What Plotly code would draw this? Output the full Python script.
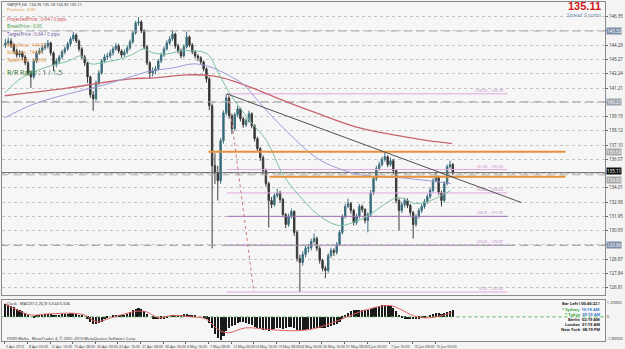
import plotly.graph_objects as go

# ---------------- DATA ----------------
first_open = 144.30
close = [144.46, 144.60, 144.31, 143.88, 143.59, 143.74, 143.45, 143.02, 142.30, 142.01,
         143.16, 143.74, 143.88, 144.10, 144.24, 144.46, 143.74, 142.88, 143.16, 143.45,
         143.81, 144.03, 144.39, 144.74, 145.03, 144.60, 144.03, 143.45, 143.02, 142.01,
         140.72, 140.43, 141.58, 142.30, 143.16, 143.45, 143.52, 143.74, 144.03, 144.24,
         143.88, 143.59, 143.81, 144.10, 144.53, 145.18, 145.90, 145.97, 145.32, 144.17,
         143.02, 142.30, 142.44, 142.59, 143.16, 143.59, 144.03, 144.46, 144.74, 145.10,
         144.24, 143.88, 143.52, 144.17, 144.89, 144.31, 143.81, 143.52, 143.38, 143.09,
         142.59, 141.87, 139.93, 135.61, 135.11, 134.53, 137.41, 139.42, 140.50, 139.21,
         138.27, 139.28, 139.71, 138.99, 138.56, 138.85, 139.35, 138.49, 137.56, 136.84,
         136.19, 135.25, 134.32, 133.10, 132.81, 133.46, 133.67, 133.17, 132.09, 131.37,
         131.95, 132.31, 130.80, 128.93, 128.64, 129.21, 129.65, 129.70, 130.15, 130.36,
         129.65, 128.78, 128.21, 128.06, 129.14, 129.50, 129.36, 129.93, 130.80, 131.95,
         132.67, 132.88, 132.38, 131.51, 131.95, 132.67, 132.45, 131.66, 132.09, 133.67,
         134.68, 135.40, 135.69, 136.05, 136.26, 135.69, 135.97, 135.25, 133.10, 132.38,
         132.81, 133.10, 132.74, 132.23, 131.37, 131.95, 132.38, 132.67, 133.02, 133.38,
         133.82, 134.53, 134.82, 133.67, 133.10, 134.32, 135.54, 135.69, 135.11]
high = [144.75, 144.85, 144.80, 144.45, 144.05, 143.95, 143.90, 143.60, 143.15, 142.45,
        143.30, 143.90, 144.10, 144.30, 144.45, 144.67, 144.55, 143.85, 143.35, 143.60,
        143.95, 144.20, 144.55, 144.90, 145.25, 145.15, 144.70, 144.15, 143.60, 143.10,
        142.10, 141.00, 141.75, 142.50, 143.30, 143.65, 143.75, 143.95, 144.20, 144.45,
        144.40, 144.00, 144.00, 144.30, 144.70, 145.35, 146.05, 146.33, 146.10, 145.45,
        144.30, 143.15, 142.70, 142.80, 143.30, 143.75, 144.20, 144.65, 144.95, 145.40,
        145.20, 144.40, 144.05, 144.35, 145.25, 145.00, 144.45, 143.95, 143.65, 143.50,
        143.20, 142.70, 142.00, 140.10, 136.50, 135.60, 137.60, 139.60, 140.79, 140.60,
        139.35, 139.45, 139.93, 139.80, 139.10, 139.05, 139.57, 139.45, 138.60, 137.70,
        136.95, 136.35, 135.40, 134.45, 133.35, 133.65, 133.96, 133.80, 133.30, 132.20,
        132.15, 132.52, 132.40, 130.95, 129.20, 129.45, 129.85, 129.95, 130.35, 130.72,
        130.50, 129.80, 128.90, 128.40, 129.30, 129.70, 129.65, 130.10, 130.95, 132.10,
        132.85, 133.24, 133.00, 132.50, 132.15, 132.85, 132.80, 132.55, 132.25, 133.85,
        134.85, 135.60, 135.90, 136.25, 136.55, 136.35, 136.20, 136.10, 135.35, 133.25,
        133.00, 133.30, 133.25, 132.85, 132.35, 132.10, 132.55, 132.85, 133.20, 133.55,
        134.00, 134.70, 135.11, 134.90, 133.80, 134.50, 135.70, 135.97, 135.80]
low = [144.10, 144.30, 144.10, 143.70, 143.40, 143.40, 143.25, 142.85, 142.10, 141.22,
       141.85, 143.00, 143.60, 143.70, 143.95, 144.05, 143.55, 142.44, 142.70, 143.00,
       143.30, 143.65, 143.90, 144.20, 144.60, 144.45, 143.85, 143.30, 142.80, 141.58,
       140.50, 139.57, 140.30, 141.40, 142.15, 143.00, 143.25, 143.35, 143.55, 143.90,
       143.70, 143.40, 143.45, 143.65, 143.95, 144.40, 145.05, 145.70, 145.15, 144.00,
       142.85, 141.87, 142.05, 142.20, 142.45, 143.00, 143.45, 143.90, 144.30, 144.60,
       144.05, 143.70, 143.35, 143.40, 144.05, 144.15, 143.65, 143.35, 143.15, 142.90,
       142.40, 141.60, 139.60, 129.65, 134.30, 133.10, 134.30, 137.20, 139.25, 139.00,
       137.90, 138.10, 139.10, 138.80, 138.35, 138.40, 138.70, 138.30, 137.35, 136.60,
       135.95, 135.00, 134.10, 131.15, 132.55, 132.65, 133.30, 132.95, 131.90, 131.10,
       131.20, 131.80, 130.55, 128.70, 126.50, 128.40, 129.00, 129.35, 129.50, 130.00,
       129.45, 128.55, 128.00, 127.50, 127.90, 128.95, 129.10, 129.20, 129.80, 130.65,
       131.80, 132.55, 132.15, 131.30, 131.35, 131.80, 132.25, 131.45, 130.80, 131.95,
       133.50, 134.50, 135.25, 135.55, 135.90, 135.50, 135.55, 135.05, 132.90, 130.94,
       132.20, 132.60, 132.55, 132.00, 130.36, 131.20, 131.80, 132.20, 132.50, 132.85,
       133.20, 133.65, 134.40, 133.50, 132.67, 132.95, 134.20, 135.40, 134.95]

# moving averages (bar index, price)
ma_green_bar = [0, 12, 28, 45, 54, 61, 68, 82, 91, 98, 105, 115, 124, 133, 143, 152, 161,
                175, 185, 197, 208, 222, 236, 246, 257, 267, 278, 290, 301, 315]
ma_green_val = [140.86, 141.94, 142.66, 143.16, 143.52, 142.95, 143.02, 143.31, 143.67, 144.03,
                143.74, 143.67, 143.88, 143.88, 143.67, 142.08, 140.50, 138.63, 137.41, 134.89,
                133.46, 132.02, 131.30, 131.51, 132.02, 132.74, 133.31, 132.88, 133.10, 133.82]
ma_purple_bar = [0, 21, 45, 68, 91, 103, 119, 133, 143, 152, 159, 168, 185, 201, 220, 236,
                 255, 278, 299, 315]
ma_purple_val = [139.06, 140.07, 140.79, 141.37, 142.08, 142.44, 142.66, 142.95, 142.80, 142.44,
                 142.08, 141.51, 139.57, 137.91, 136.19, 135.40, 134.89, 134.75, 134.53, 134.32]
ma_red_bar = [0, 45, 68, 89, 105, 129, 147, 161, 180, 201, 220, 250, 278, 299, 316]
ma_red_val = [140.65, 141.22, 141.58, 141.87, 141.94, 142.16, 142.08, 141.73, 141.01, 140.14,
              139.42, 138.35, 137.77, 137.41, 137.20]

# MACD histogram (one per candle) and signal line points
macd_hist = [1.05, 0.97, 0.89, 0.81, 0.65, 0.57,
             0.49, 0.32, 0.16, 0.0, -0.08,
             0.08, 0.16, 0.16, 0.24, 0.24, 0.24, 0.16, 0.16, 0.16, 0.24,
             0.24, 0.24, 0.32, 0.32, 0.24, 0.16, 0.08, 0.0,
             -0.16, -0.41, -0.57, -0.57, -0.49, -0.41, -0.24, -0.08,
             0.0, 0.08, 0.16, 0.16, 0.16, 0.16, 0.24,
             0.41, 0.57, 0.65, 0.73, 0.65, 0.49, 0.24,
             0.0, -0.16, -0.24, -0.24, -0.16, -0.16, -0.08, 0.0,
             0.08, 0.16, 0.16, 0.16, 0.24, 0.24, 0.16,
             0.08, 0.08, 0.0, 0.0, -0.08, -0.16,
             -0.49, -0.97, -1.46, -1.78, -1.94, -1.62, -1.22,
             -0.97, -0.81, -0.65, -0.49, -0.41, -0.41, -0.49, -0.57,
             -0.73, -0.89, -0.97, -1.05, -1.13, -1.13, -1.22, -1.13, -1.05,
             -0.97, -0.97, -1.05, -0.97, -0.89, -0.89, -0.97, -1.13, -1.22, -1.13,
             -1.13, -1.05, -1.05, -0.97, -0.97, -0.97, -0.97,
             -0.97, -0.89, -0.81, -0.73, -0.57, -0.41, -0.16, 0.08,
             0.32, 0.49, 0.57, 0.57, 0.57, 0.57, 0.57, 0.57, 0.65, 0.73, 0.81, 0.89, 0.97, 0.97,
             0.89, 0.89, 0.73, 0.49, 0.16,
             -0.08, -0.16, -0.24, -0.24, -0.24, -0.24, -0.16, -0.08, -0.08, 0.0, 0.08,
             0.24, 0.32, 0.32, 0.24, 0.32, 0.41, 0.49, 0.54]
signal_bar = [0, 18, 30, 55, 65, 74, 93, 100, 109, 118, 132, 142, 151, 158, 170, 188, 207,
              221, 242, 254, 272, 279, 289, 300, 316]
signal_val = [1.09, 0.16, 0.24, 0.20, -0.41, -0.12, 0.45, 0.41, -0.08, 0.12, 0.0, -0.16,
              -1.05, -1.30, -0.90, -1.05, -1.13, -0.89, 0.0, 0.53, 0.93, 0.65, 0.08, -0.08, 0.35]

date_labels = ["5 Apr 2010", "8 Apr 00:00", "12 Apr 16:00", "15 Apr 08:00", "20 Apr 00:00",
               "22 Apr 16:00", "27 Apr 08:00", "30 Apr 00:00", "4 May 16:00", "7 May 08:00",
               "12 May 00:00", "14 May 16:00", "19 May 08:00", "24 May 00:00", "26 May 16:00",
               "31 May 08:00", "3 Jun 00:00", "7 Jun 16:00", "10 Jun 08:00", "15 Jun 00:00"]

grid_levels = [146.35, 145.32, 144.29, 143.27, 142.24, 141.21, 140.18, 139.15, 138.12, 137.10,
               136.07, 135.04, 134.01, 132.98, 131.95, 130.93, 129.90, 128.87, 127.84, 126.81]

fib_low, fib_high = 126.50, 140.79
fib_ratios = [0.0, 23.6, 38.2, 50.0, 61.8, 100.0]
fib_colors = ["#e2a8e2", "#b07ac0", "#a070b8", "#e2a8e2", "#e2a8e2", "#e2a8e2"]
fib_start_bar, fib_end_bar = 157, 355

orange_levels = [136.62, 134.82]
orange_start = [144, 187]
orange_end = 396

dashed_levels = [145.32, 140.21, 129.86]
bid_price, ask_line = 135.11, 134.95

trend_bar = [157, 365]
trend_val = [140.79, 132.95]
fibdiag_bar = [158, 176]
fibdiag_val = [140.70, 126.50]

# ---------------- FIGURE ----------------
n = len(close)
bar_x = [2 * i + 0.5 for i in range(n)]
open_ = [first_open] + close[:-1]

fig = go.Figure()

for r, col in zip(fib_ratios, fib_colors):
    lvl = fib_low + (fib_high - fib_low) * r / 100.0
    fig.add_trace(go.Scatter(x=[fib_start_bar, fib_end_bar], y=[lvl, lvl], mode="lines",
                             line=dict(color=col, width=1), hoverinfo="skip", showlegend=False))
    fig.add_annotation(x=fib_end_bar - 1, y=lvl, xref="x", yref="y", xanchor="right", yanchor="bottom",
                       text=f"({r:.1f}) - {lvl:.2f}", showarrow=False,
                       font=dict(size=4, color="#c080c8"), yshift=-1)

for lvl in dashed_levels:
    fig.add_trace(go.Scatter(x=[-3, 430], y=[lvl, lvl], mode="lines",
                             line=dict(color="#a9a9a9", width=1.2, dash="8px,5px"),
                             hoverinfo="skip", showlegend=False))
fig.add_trace(go.Scatter(x=[-3, 430], y=[ask_line, ask_line], mode="lines",
                         line=dict(color="#b0b0b0", width=1, dash="8px,5px"),
                         hoverinfo="skip", showlegend=False))
fig.add_trace(go.Scatter(x=[-3, 430], y=[bid_price, bid_price], mode="lines",
                         line=dict(color="#6a6a6a", width=1),
                         hoverinfo="skip", showlegend=False))

fig.add_trace(go.Scatter(x=ma_red_bar, y=ma_red_val, mode="lines", line=dict(color="#c86470", width=1.3, shape="spline"),
                         hoverinfo="skip", showlegend=False))
fig.add_trace(go.Scatter(x=ma_purple_bar, y=ma_purple_val, mode="lines", line=dict(color="#9a9ad8", width=1, shape="spline"),
                         hoverinfo="skip", showlegend=False))
fig.add_trace(go.Scatter(x=ma_green_bar, y=ma_green_val, mode="lines", line=dict(color="#7cc0a0", width=1, shape="spline"),
                         hoverinfo="skip", showlegend=False))

for lvl, s in zip(orange_levels, orange_start):
    fig.add_trace(go.Scatter(x=[s, orange_end], y=[lvl, lvl], mode="lines",
                             line=dict(color="#e8903a", width=2), hoverinfo="skip", showlegend=False))

fig.add_trace(go.Scatter(x=trend_bar, y=trend_val, mode="lines", line=dict(color="#505050", width=1),
                         hoverinfo="skip", showlegend=False))
fig.add_trace(go.Scatter(x=fibdiag_bar, y=fibdiag_val, mode="lines", line=dict(color="#c87878", width=1, dash="dot"),
                         hoverinfo="skip", showlegend=False))

fig.add_trace(go.Candlestick(x=bar_x, open=open_, high=high, low=low, close=close,
                             increasing=dict(line=dict(color="#3f6f7d", width=1), fillcolor="#2e6878"),
                             decreasing=dict(line=dict(color="#3c3c3c", width=1), fillcolor="#2a2522"),
                             whiskerwidth=0, hoverinfo="skip", showlegend=False))

# MACD panel
fig.add_trace(go.Scatter(x=[-3, 430], y=[0, 0], mode="lines", xaxis="x2", yaxis="y2",
                         line=dict(color="#5cb85c", width=1, dash="dot"), hoverinfo="skip", showlegend=False))
fig.add_trace(go.Bar(x=bar_x, y=macd_hist, xaxis="x2", yaxis="y2", marker=dict(color="#1a1a1a", line=dict(width=0)),
                     width=1.5, hoverinfo="skip", showlegend=False))
fig.add_trace(go.Scatter(x=signal_bar, y=signal_val, mode="lines", xaxis="x2", yaxis="y2",
                         line=dict(color="#e06060", width=1, shape="spline"), hoverinfo="skip", showlegend=False))

# (level, box colour, vertical nudge in px)
box_levels = [(145.32, "#7d8ea8", 0), (140.21, "#9aa3ae", 0), (129.86, "#7d8ea8", 0),
              (136.62, "#a8a8a8", 0), (134.82, "#a8a8a8", -3), (bid_price, "#101010", 2)]
tick_text = []
for v in grid_levels:
    near = any(abs(v - b) < 0.45 for b, _, _ in box_levels)
    tick_text.append("" if near else f"{v:.2f}")

xr = [-1.9, 424]
fig.update_layout(
    width=625, height=349,
    margin=dict(l=1, r=15, t=1, b=8),
    paper_bgcolor="#f4f4f4", plot_bgcolor="#f6f6f6",
    showlegend=False,
    xaxis=dict(domain=[0, 1], range=xr, anchor="y", showticklabels=False, showgrid=False,
               zeroline=False, rangeslider=dict(visible=False),
               showline=True, linecolor="#8a8a8a", mirror=True),
    yaxis=dict(domain=[0.135, 1], range=[126.27, 147.41], side="right", tickvals=grid_levels,
               ticktext=tick_text, tickfont=dict(size=4.5, color="#333"),
               showgrid=True, gridcolor="#c4c4c4", griddash="dot", gridwidth=1,
               zeroline=False, showline=True, linecolor="#8a8a8a", mirror=True, ticks="outside",
               ticklen=2, tickcolor="#666"),
    xaxis2=dict(domain=[0, 1], range=xr, anchor="y2", showticklabels=False, showgrid=False, zeroline=False,
                tickvals=[16 * i for i in range(len(date_labels))], ticks="outside", ticklen=2,
                tickcolor="#666", showline=True, linecolor="#8a8a8a", mirror=True),
    yaxis2=dict(domain=[0, 0.12], range=[-1.97, 1.35], side="right", tickvals=[1.2, 0, -1.8],
                ticktext=["1.20000", "0", "-1.80000"], tickfont=dict(size=4, color="#333"),
                showgrid=False, zeroline=False, showline=True, linecolor="#8a8a8a", mirror=True),
    bargap=0,
)

for i, lab in enumerate(date_labels):
    fig.add_annotation(x=16 * i - 0.5, y=0, xref="x2", yref="paper", xanchor="left", yanchor="top",
                       text=lab, showarrow=False, font=dict(size=3.6, color="#333"), yshift=-1)

for lvl, bg, nudge in box_levels:
    fig.add_annotation(x=1.0, y=lvl, xref="paper", yref="y", xanchor="left", yanchor="middle",
                       text=f"{lvl:.2f}", showarrow=False, bgcolor=bg, font=dict(size=4.5, color="white"),
                       borderpad=0, xshift=1, yshift=nudge)

H = 349.0
def paper_y(pix):
    return (H - 8 - pix) / (H - 9)

def tl(text, y, color, size=4.5):
    fig.add_annotation(x=0, y=paper_y(y), xref="paper", yref="paper", xanchor="left", yanchor="middle",
                       text=text, showarrow=False, font=dict(size=size, color=color), xshift=3)

tl("GBPJPY,H4  134.95 135.18 134.95 135.11", 3.5, "#222", size=4)
tl("Positions : 0.00", 8.5, "#e0882a", size=4)
tl("ProjectedPrice : 0.64 / 0 pips", 18, "#c83c3c")
tl("BreakPrice : 0.00", 25, "#3a9a3a")
tl("TargetPrice : 0.64 / 0 pips", 33, "#6a4aa0")
tl("EntryPrice : 144.50", 44, "#e0882a")
tl("StopLoss : 144.90", 51, "#e0882a")
tl("TakeProfit : 143.90", 59, "#e0882a")
tl("R/R Ratio : 1 / 1.5", 72, "#2d6e2d", size=7)

fig.add_annotation(x=1.0, y=paper_y(5.5), xref="paper", yref="paper", xanchor="right", yanchor="middle",
                   text="<b>135.11</b>", showarrow=False, font=dict(size=11, color="#d01818", family="Arial"),
                   xshift=-2)
fig.add_annotation(x=1.0, y=paper_y(14.5), xref="paper", yref="paper", xanchor="right", yanchor="middle",
                   text="Spread: 9 points", showarrow=False, font=dict(size=4.5, color="#6a8ab0"), xshift=-2)

tl("Clock   MACD(12,26,9) 0.544 0.346", 303, "#222", size=4)
tl("FXDD Malta - MetaTrader 4, © 2001-2010 MetaQuotes Software Corp.", 338.5, "#222", size=4)

clock_rows = [("Bar Left [ 00:40:22 ]", "", "#222", "#222", 303),
              ("* Sydney", "10:19 AM", "#3aa83a", "#3a7ad0", 309),
              ("* Tokyo", "09:19 AM", "#3aa83a", "#3a7ad0", 314),
              ("Berlin", "02:19 AM", "#222", "#222", 319),
              ("London", "01:19 AM", "#222", "#222", 324),
              ("New York", "08:19 PM", "#222", "#222", 329)]
for name, t, c1, c2, yy in clock_rows:
    if t:
        txt = f"<b><span style='color:{c1}'>{name}</span>  <span style='color:{c2}'>{t}</span></b>"
    else:
        txt = f"<b>{name}</b>"
    fig.add_annotation(x=1.0, y=paper_y(yy), xref="paper", yref="paper", xanchor="right", yanchor="middle",
                       text=txt, showarrow=False, font=dict(size=4, color=c1), xshift=-3)

fig.write_html("out.html")
